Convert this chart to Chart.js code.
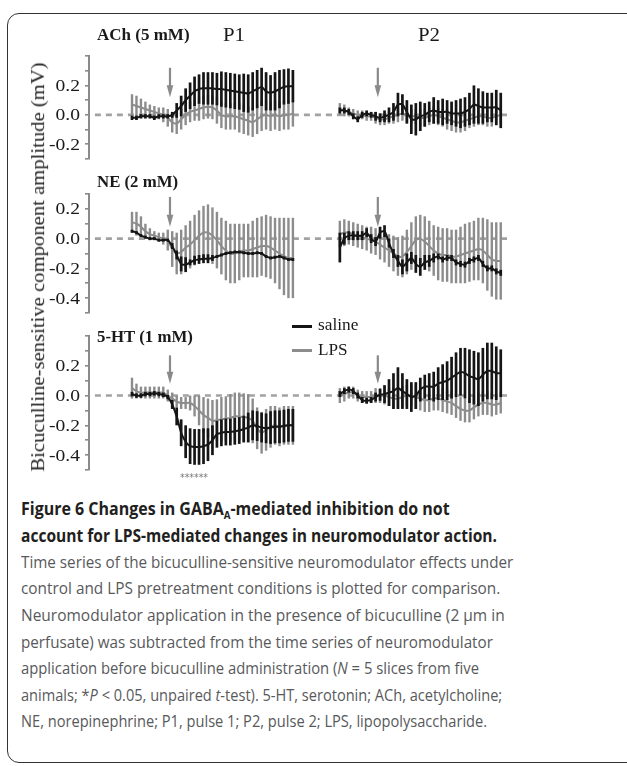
<!DOCTYPE html>
<html><head><meta charset="utf-8">
<script src="https://cdn.jsdelivr.net/npm/chart.js@4.4.1/dist/chart.umd.min.js"></script>
<style>
body{margin:0;width:627px;height:766px;overflow:hidden;background:#fff;position:relative;}
#frame{position:absolute;left:7px;top:13px;width:700px;height:750px;border:1.5px solid #333;border-radius:12px;box-sizing:border-box;}
.cv{position:absolute;left:0;display:block;}
.t{position:absolute;white-space:nowrap;line-height:20px;transform-origin:0 50%;color:#1a1a1a;}
.serif{font-family:"Liberation Serif","Times New Roman",serif;}
.cap{position:absolute;left:21px;white-space:nowrap;line-height:26px;transform-origin:0 50%;font-family:"Open Sans","Noto Sans",sans-serif;font-size:17px;color:#58595b;}
.cap.b{font-weight:700;color:#231f20;font-size:18px;}
.sub{font-size:11px;vertical-align:-4px;}
.leg{position:absolute;height:3px;width:20px;}
</style></head>
<body>
<div id="frame"></div>
<canvas id="cACh" class="cv" width="627" height="127" style="top:44px"></canvas>
<canvas id="cNE" class="cv" width="627" height="143" style="top:182px"></canvas>
<canvas id="cHT" class="cv" width="627" height="158" style="top:324px"></canvas>

<div class="t serif fit" data-w="93" style="left:97px;top:25px;font-weight:bold;font-size:17px;">ACh (5 mM)</div>
<div class="t serif fit" data-w="22" style="left:223px;top:25px;font-size:18px;">P1</div>
<div class="t serif fit" data-w="22" style="left:418px;top:25px;font-size:18px;">P2</div>
<div class="t serif fit" data-w="81" style="left:97px;top:172px;font-weight:bold;font-size:17px;">NE (2 mM)</div>
<div class="t serif fit" data-w="96" style="left:97px;top:327px;font-weight:bold;font-size:17px;">5-HT (1 mM)</div>

<div class="leg" style="left:292px;top:325px;background:#151515;"></div>
<div class="t serif fit" data-w="40" style="left:318px;top:315px;font-size:16px;">saline</div>
<div class="leg" style="left:292px;top:349px;background:#8c8c8c;"></div>
<div class="t serif fit" data-w="30" style="left:318px;top:340px;font-size:16px;">LPS</div>

<div class="t fit" data-w="28" style="left:180px;top:468px;font-size:10px;color:#777;font-family:'DejaVu Sans';">******</div>

<div id="ytitle" class="t serif" style="font-size:19px;transform-origin:50% 50%;color:#222;">Bicuculline-sensitive component amplitude (mV)</div>

<div class="cap b fit" data-w="429" style="top:495px;">Figure 6 Changes in GABA<span class="sub">A</span>-mediated inhibition do not</div>
<div class="cap b fit" data-w="476" style="top:522px;">account for LPS-mediated changes in neuromodulator action.</div>
<div class="cap fit" data-w="492" style="top:549px;">Time series of the bicuculline-sensitive neuromodulator effects under</div>
<div class="cap fit" data-w="479" style="top:575px;">control and LPS pretreatment conditions is plotted for comparison.</div>
<div class="cap fit" data-w="484" style="top:602px;">Neuromodulator application in the presence of bicuculline (2 μm in</div>
<div class="cap fit" data-w="472" style="top:629px;">perfusate) was subtracted from the time series of neuromodulator</div>
<div class="cap fit" data-w="458" style="top:655px;">application before bicuculline administration (<i>N</i> = 5 slices from five</div>
<div class="cap fit" data-w="481" style="top:682px;">animals; *<i>P</i> &lt; 0.05, unpaired <i>t</i>-test). 5-HT, serotonin; ACh, acetylcholine;</div>
<div class="cap fit" data-w="466" style="top:708px;">NE, norepinephrine; P1, pulse 1; P2, pulse 2; LPS, lipopolysaccharide.</div>

<script>
// ---- time bins (sample index within each pulse) ----
const timeBins = Array.from({length: 37}, (_, i) => i);
const p2Start = 46.5;             // P2 bins start after the gap between pulses
const arrowBin = 8.5;             // neuromodulator application (arrow) bin
const yTickLabels = ['0.2', '0.0', '-0.2', '-0.4'];

// ---- ACh (5 mM) ----
const achSalP1 = [-0.02,-0.02,-0.01,-0.01,-0.01,-0.02,-0.01,-0.01,-0.01,0.0,0.03,0.06,0.10,0.13,0.16,0.175,0.18,0.18,0.18,0.175,0.175,0.17,0.165,0.16,0.155,0.15,0.145,0.16,0.175,0.19,0.16,0.15,0.16,0.175,0.19,0.195,0.195];
const achSalP1Err = [0.015,0.015,0.015,0.015,0.015,0.015,0.015,0.015,0.015,0.02,0.05,0.07,0.08,0.09,0.1,0.1,0.11,0.11,0.11,0.11,0.12,0.12,0.12,0.12,0.12,0.13,0.13,0.13,0.13,0.13,0.13,0.12,0.13,0.13,0.12,0.12,0.11];
const achLpsP1 = [0.07,0.06,0.05,0.04,0.03,0.02,0.01,0.0,-0.02,-0.05,-0.06,-0.03,0.0,0.02,0.03,0.04,0.05,0.055,0.05,0.03,0.0,-0.01,-0.01,-0.01,-0.02,-0.03,-0.04,-0.05,-0.03,-0.01,0.0,-0.01,0.0,-0.01,0.0,0.0,0.01];
const achLpsP1Err = [0.07,0.07,0.06,0.05,0.04,0.04,0.04,0.05,0.06,0.07,0.07,0.07,0.07,0.07,0.07,0.08,0.08,0.08,0.08,0.09,0.09,0.09,0.09,0.09,0.1,0.1,0.1,0.1,0.1,0.1,0.1,0.1,0.1,0.1,0.1,0.1,0.09];
const achSalP2 = [0.03,0.03,0.02,-0.01,-0.03,0.0,0.01,0.0,-0.01,-0.02,-0.01,0.0,0.02,0.07,0.07,0.02,-0.03,-0.03,-0.01,0.0,0.02,0.03,0.02,0.02,0.02,0.01,0.01,0.01,0.02,0.04,0.07,0.06,0.05,0.05,0.05,0.05,0.03];
const achSalP2Err = [0.02,0.02,0.02,0.02,0.02,0.02,0.02,0.02,0.03,0.03,0.04,0.05,0.06,0.08,0.07,0.08,0.1,0.11,0.1,0.08,0.07,0.09,0.08,0.09,0.08,0.08,0.09,0.1,0.1,0.11,0.13,0.12,0.11,0.1,0.1,0.12,0.12];
const achLpsP2 = [0.04,0.03,0.02,0.01,0.0,0.0,-0.01,-0.01,-0.02,-0.03,-0.03,-0.02,-0.01,0.0,0.01,0.0,-0.01,-0.01,-0.02,-0.02,-0.01,0.0,-0.01,-0.02,-0.03,-0.04,-0.05,-0.05,-0.04,-0.03,-0.02,-0.01,-0.01,-0.02,-0.02,-0.01,0.0];
const achLpsP2Err = [0.04,0.04,0.03,0.03,0.03,0.03,0.03,0.03,0.04,0.04,0.04,0.04,0.05,0.05,0.05,0.05,0.05,0.05,0.06,0.06,0.06,0.06,0.06,0.06,0.07,0.07,0.07,0.07,0.07,0.06,0.06,0.06,0.06,0.06,0.06,0.06,0.06];

// ---- NE (2 mM) ----
const neSalP1 = [0.05,0.04,0.02,0.01,0.0,0.0,-0.01,-0.01,-0.01,-0.05,-0.11,-0.17,-0.175,-0.16,-0.145,-0.14,-0.135,-0.135,-0.13,-0.12,-0.11,-0.1,-0.095,-0.09,-0.09,-0.095,-0.1,-0.1,-0.095,-0.1,-0.12,-0.13,-0.125,-0.12,-0.13,-0.14,-0.14];
const neSalP1Err = [0.01,0.01,0.01,0.01,0.01,0.01,0.01,0.01,0.01,0.02,0.03,0.05,0.05,0.02,0.03,0.03,0.03,0.03,0.02,0.01,0.01,0.01,0.01,0.01,0.01,0.01,0.01,0.01,0.01,0.01,0.01,0.01,0.01,0.01,0.01,0.01,0.01];
const neLpsP1 = [0.11,0.1,0.08,0.05,0.03,0.02,0.01,0.0,-0.01,-0.07,-0.1,-0.09,-0.06,-0.04,-0.01,0.02,0.04,0.04,0.02,-0.01,-0.05,-0.08,-0.1,-0.1,-0.09,-0.08,-0.08,-0.07,-0.06,-0.05,-0.05,-0.06,-0.08,-0.1,-0.12,-0.13,-0.13];
const neLpsP1Err = [0.07,0.08,0.07,0.05,0.04,0.03,0.03,0.04,0.07,0.12,0.14,0.15,0.15,0.16,0.17,0.17,0.18,0.19,0.19,0.19,0.19,0.2,0.2,0.2,0.19,0.18,0.18,0.19,0.2,0.2,0.21,0.21,0.22,0.24,0.26,0.27,0.27];
const neSalP2 = [-0.06,0.0,0.02,0.02,0.02,0.02,0.04,0.0,-0.02,0.04,0.05,-0.03,-0.1,-0.15,-0.19,-0.16,-0.13,-0.17,-0.19,-0.16,-0.15,-0.13,-0.12,-0.14,-0.13,-0.13,-0.16,-0.17,-0.175,-0.15,-0.14,-0.13,-0.17,-0.2,-0.2,-0.22,-0.23];
const neSalP2Err = [0.1,0.04,0.03,0.03,0.03,0.03,0.03,0.03,0.03,0.04,0.04,0.03,0.03,0.04,0.05,0.06,0.04,0.06,0.06,0.05,0.04,0.03,0.02,0.02,0.02,0.02,0.02,0.02,0.02,0.02,0.02,0.02,0.02,0.02,0.02,0.02,0.02];
const neLpsP2 = [0.03,0.04,0.04,0.03,0.02,0.01,0.0,-0.01,-0.02,-0.04,-0.06,-0.08,-0.1,-0.12,-0.12,-0.09,-0.05,-0.01,0.0,-0.02,-0.05,-0.08,-0.1,-0.11,-0.11,-0.12,-0.12,-0.11,-0.1,-0.09,-0.08,-0.07,-0.08,-0.11,-0.14,-0.15,-0.15];
const neLpsP2Err = [0.09,0.09,0.08,0.08,0.08,0.08,0.08,0.09,0.09,0.1,0.1,0.11,0.12,0.13,0.14,0.15,0.16,0.16,0.16,0.17,0.17,0.17,0.18,0.18,0.18,0.18,0.18,0.19,0.2,0.2,0.2,0.21,0.22,0.24,0.25,0.26,0.26];

// ---- 5-HT (1 mM) ----
const htSalP1 = [0.01,0.0,0.0,0.01,0.01,0.015,0.01,0.005,-0.01,-0.06,-0.14,-0.25,-0.31,-0.34,-0.345,-0.345,-0.34,-0.33,-0.3,-0.26,-0.25,-0.245,-0.245,-0.24,-0.235,-0.225,-0.215,-0.2,-0.205,-0.215,-0.22,-0.215,-0.21,-0.21,-0.205,-0.2,-0.2];
const htSalP1Err = [0.015,0.015,0.015,0.015,0.015,0.015,0.015,0.015,0.015,0.03,0.06,0.09,0.11,0.12,0.12,0.12,0.12,0.11,0.1,0.09,0.09,0.09,0.09,0.09,0.09,0.09,0.1,0.1,0.1,0.1,0.1,0.11,0.11,0.11,0.11,0.11,0.11];
const htLpsP1 = [0.05,0.03,0.02,0.02,0.02,0.02,0.02,0.02,0.0,-0.02,-0.04,-0.05,-0.05,-0.05,-0.07,-0.1,-0.13,-0.15,-0.17,-0.165,-0.16,-0.155,-0.15,-0.14,-0.14,-0.145,-0.15,-0.17,-0.22,-0.25,-0.23,-0.21,-0.2,-0.21,-0.2,-0.2,-0.2];
const htLpsP1Err = [0.07,0.05,0.04,0.04,0.04,0.04,0.04,0.04,0.04,0.04,0.04,0.04,0.04,0.05,0.07,0.1,0.12,0.13,0.14,0.14,0.15,0.15,0.16,0.16,0.16,0.16,0.16,0.15,0.14,0.14,0.14,0.14,0.13,0.13,0.13,0.13,0.13];
const htSalP2 = [0.01,0.03,0.04,0.03,0.0,-0.03,-0.035,-0.03,-0.01,0.005,0.01,0.02,0.03,0.05,0.03,0.01,-0.01,0.0,0.04,0.06,0.06,0.06,0.08,0.09,0.1,0.12,0.14,0.16,0.15,0.13,0.12,0.11,0.14,0.165,0.165,0.15,0.15];
const htSalP2Err = [0.02,0.02,0.02,0.02,0.02,0.02,0.02,0.02,0.03,0.04,0.06,0.09,0.12,0.14,0.12,0.1,0.1,0.09,0.08,0.08,0.09,0.1,0.11,0.12,0.13,0.14,0.15,0.16,0.17,0.18,0.18,0.18,0.18,0.19,0.19,0.18,0.16];
const htLpsP2 = [0.0,0.01,0.02,0.02,0.0,-0.01,-0.01,-0.01,0.0,0.0,0.0,-0.01,-0.02,-0.02,-0.01,0.0,0.0,-0.01,-0.02,-0.03,-0.03,-0.02,-0.02,-0.03,-0.04,-0.05,-0.07,-0.09,-0.1,-0.1,-0.08,-0.06,-0.05,-0.05,-0.06,-0.06,-0.05];
const htLpsP2Err = [0.05,0.05,0.04,0.04,0.04,0.04,0.04,0.04,0.05,0.05,0.06,0.06,0.07,0.07,0.07,0.07,0.07,0.08,0.08,0.08,0.08,0.08,0.08,0.08,0.08,0.08,0.08,0.08,0.08,0.08,0.08,0.08,0.08,0.08,0.08,0.07,0.07];

// arrow extents (mV units) per panel: [top, tip]
const achArrow = [0.32, 0.12];
const neArrow = [0.28, 0.08];
const htArrow = [0.27, 0.08];

const BLACK = '#151515', GRAY = '#8c8c8c';

function series(p1, p2) {
  return timeBins.map((t, i) => ({x: t, y: p1[i]}))
    .concat([{x: (timeBins[timeBins.length-1] + p2Start) / 2, y: null}])
    .concat(timeBins.map((t, i) => ({x: t + p2Start, y: p2[i]})));
}
function errs(e1, e2) { return e1.concat([null]).concat(e2); }

const errorBarPlugin = {
  id: 'errbars',
  beforeDatasetDraw(chart, args) {
    const ds = chart.data.datasets[args.index];
    if (!ds.errors) return;
    const ctx = chart.ctx, xs = chart.scales.x, ys = chart.scales.y;
    ctx.save();
    ctx.strokeStyle = ds.borderColor;
    ctx.lineWidth = ds.barWidth;
    ds.data.forEach((p, i) => {
      const e = ds.errors[i];
      if (p.y === null || e == null) return;
      const px = xs.getPixelForValue(p.x);
      ctx.beginPath();
      ctx.moveTo(px, ys.getPixelForValue(p.y + e));
      ctx.lineTo(px, ys.getPixelForValue(p.y - e));
      ctx.stroke();
    });
    ctx.restore();
  }
};

const decorPlugin = {
  id: 'decor',
  afterDatasetsDraw(chart) {
    const o = chart.options.plugins.decor;
    const ctx = chart.ctx, xs = chart.scales.x, ys = chart.scales.y;
    ctx.save();
    ctx.strokeStyle = '#8a8a8a'; ctx.fillStyle = '#8a8a8a';
    [arrowBin, arrowBin + p2Start].forEach(b => {
      const px = xs.getPixelForValue(b);
      const yTop = ys.getPixelForValue(o.arrow[0]);
      const yTip = ys.getPixelForValue(o.arrow[1]);
      ctx.lineWidth = 2.2;
      ctx.beginPath(); ctx.moveTo(px, yTop); ctx.lineTo(px, yTip - 10); ctx.stroke();
      ctx.beginPath(); ctx.moveTo(px - 3.3, yTip - 12); ctx.lineTo(px + 3.3, yTip - 12); ctx.lineTo(px, yTip); ctx.closePath(); ctx.fill();
    });
    ctx.restore();
  },
  afterDraw(chart) {
    const ctx = chart.ctx, ys = chart.scales.y;
    ctx.save();
    ctx.fillStyle = '#1a1a1a';
    ctx.font = '17px "Liberation Serif"';
    ctx.textAlign = 'right'; ctx.textBaseline = 'middle';
    yTickLabels.forEach(lab => {
      const v = parseFloat(lab);
      if (v < ys.min - 1e-9 || v > ys.max + 1e-9) return;
      const py = ys.getPixelForValue(v);
      ctx.save();
      ctx.translate(chart.chartArea.left - 9, py + 1);
      ctx.scale(1.15, 1);
      ctx.fillText(lab, 0, 0);
      ctx.restore();
    });
    ctx.restore();
  }
};

function makeChart(id, yMin, yMax, sal, salErr, lps, lpsErr, arrow) {
  new Chart(document.getElementById(id), {
    type: 'line',
    data: {
      datasets: [
        {data: series(sal[0], sal[1]), errors: errs(salErr[0], salErr[1]), borderColor: BLACK, borderWidth: 2, barWidth: 2.7, pointRadius: 0, tension: 0.25, spanGaps: false},
        {data: series(lps[0], lps[1]), errors: errs(lpsErr[0], lpsErr[1]), borderColor: GRAY, borderWidth: 2, barWidth: 2.4, pointRadius: 0, tension: 0.25, spanGaps: false},
        {data: [{x: -8.3, y: 0}, {x: 83.9, y: 0}], borderColor: '#a2a2a2', borderWidth: 2.6, borderDash: [6, 5], pointRadius: 0}
      ]
    },
    options: {
      responsive: false, animation: false, events: [],
      layout: {padding: {left: 0, right: 120, top: 12, bottom: 12}},
      plugins: {legend: {display: false}, tooltip: {enabled: false}, decor: {arrow: arrow}},
      scales: {
        x: {type: 'linear', min: -9.62, max: 83.9, display: false},
        y: {
          type: 'linear', min: yMin, max: yMax,
          afterFit(scale) { scale.width = 89; },
          border: {display: true, color: '#8a8a8a', width: 2},
          grid: {drawOnChartArea: false, drawTicks: true, tickLength: 4, color: '#8a8a8a', lineWidth: 1.6},
          ticks: {stepSize: 0.1, autoSkip: false, callback: () => '', padding: 0}
        }
      }
    },
    plugins: [errorBarPlugin, decorPlugin]
  });
}

makeChart('cACh', -0.3, 0.4, [achSalP1, achSalP2], [achSalP1Err, achSalP2Err], [achLpsP1, achLpsP2], [achLpsP1Err, achLpsP2Err], achArrow);
makeChart('cNE', -0.5, 0.3, [neSalP1, neSalP2], [neSalP1Err, neSalP2Err], [neLpsP1, neLpsP2], [neLpsP1Err, neLpsP2Err], neArrow);
makeChart('cHT', -0.5, 0.4, [htSalP1, htSalP2], [htSalP1Err, htSalP2Err], [htLpsP1, htLpsP2], [htLpsP1Err, htLpsP2Err], htArrow);

// fit text widths to the reference
document.querySelectorAll('.fit').forEach(el => {
  const w = el.offsetWidth;
  el.style.transform = 'scaleX(' + (+el.dataset.w / w) + ')';
});
const yt = document.getElementById('ytitle');
const yw = yt.offsetWidth;
yt.style.left = (38 - yw / 2) + 'px';
yt.style.top = (267 - 10) + 'px';
yt.style.transform = 'rotate(-90deg) scaleX(' + (409 / yw) + ')';
</script>
</body></html>
